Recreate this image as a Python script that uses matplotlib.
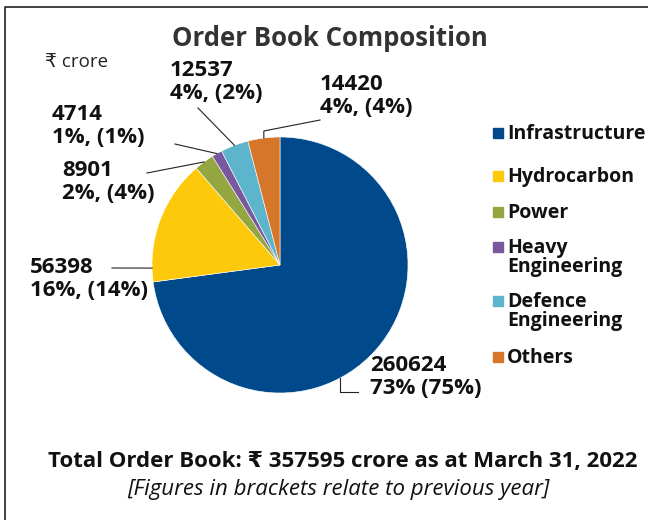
import numpy as np
import matplotlib.pyplot as plt
from matplotlib.patches import Rectangle
from matplotlib.lines import Line2D

plt.rcParams['font.family'] = ['Open Sans', 'DejaVu Sans']

# data
segments = ['Infrastructure', 'Hydrocarbon', 'Power', 'Heavy\nEngineering',
            'Defence\nEngineering', 'Others']
values = [260624, 56398, 8901, 4714, 12537, 14420]
share_now = ['73%', '16%', '2%', '1%', '4%', '4%']
share_prev = ['(75%)', '(14%)', '(4%)', '(1%)', '(2%)', '(4%)']
colors = ['#00498a', '#ffc90b', '#93a63f', '#7a58a0', '#5cb5cc', '#d6762a']

W, H = 648, 520


def fp(x, y):
    # pixel (from top-left) -> figure fraction
    return (x / W, 1 - y / H)


fig = plt.figure(figsize=(6.48, 5.2), dpi=100)

# pie centred at (280, 265) px, radius 128 px
cx, cy, r = 280, 265, 128
ax = fig.add_axes([(cx - r) / W, (H - cy - r) / H, 2 * r / W, 2 * r / H])
wedges, _ = ax.pie(values, colors=colors, startangle=90, counterclock=False,
                   wedgeprops=dict(edgecolor='white', linewidth=0.4))
ax.set_xlim(-1, 1)
ax.set_ylim(-1, 1)
ax.set_aspect('equal')
ax.axis('off')

# labels: text position (left, top) in px, point along wedge for leader, leader end
label_pos = [(370, 355), (30, 257), (62, 160), (52, 104), (170, 60), (320, 74)]
anchor_frac = [0.58, 0.11, 0.5, 0.5, 0.5, 0.5]
label_end = [(358, 392), (112, 268), (147, 173), (175, 144), (198, 108), (320, 120)]
elbow = [392, None, None, None, None, 131]

for i, w in enumerate(wedges):
    t1, t2 = w.theta1, w.theta2
    # clockwise pie: each wedge starts at theta2
    ang = np.deg2rad(t2 - anchor_frac[i] * (t2 - t1))
    ax_pt = ax.transData.transform((np.cos(ang), np.sin(ang)))
    fx, fy = fig.transFigure.inverted().transform(ax_pt)
    pts = [(fx, fy)]
    if elbow[i] is not None:
        pts.append((fx, 1 - elbow[i] / H))
    pts.append(fp(*label_end[i]))
    xs, ys = zip(*pts)
    fig.add_artist(Line2D(xs, ys, color='#222222', lw=0.8))
    sep = ' ' if i == 0 else ', '
    txt = f'{values[i]}\n{share_now[i]}{sep}{share_prev[i]}'
    fig.text(*fp(*label_pos[i]), txt, ha='left', va='top', fontsize=16,
             fontweight='bold', color='#111111', linespacing=1.12)

# title and unit
fig.text(*fp(330, 38), 'Order Book Composition', ha='center', va='center',
         fontsize=18.5, fontweight='bold', color='#333333')
fig.text(*fp(45, 62), '₹ crore', ha='left', va='center', fontsize=13.5,
         color='#222222')

# legend
leg_y = [133, 176, 212, 247, 301, 357]
for i, name in enumerate(segments):
    sx, sy = fp(493, leg_y[i] + 5)
    fig.add_artist(Rectangle((sx, sy), 10 / W, 10 / H, color=colors[i],
                             transform=fig.transFigure))
    fig.text(*fp(507, leg_y[i] - 9), name, ha='left', va='top',
             fontsize=14, fontweight='bold', color='#111111', linespacing=0.92)

# footer
fig.text(*fp(343, 461), 'Total Order Book: ₹ 357595 crore as at March 31, 2022',
         ha='center', va='center', fontsize=16, fontweight='bold', color='#111111')
fig.text(*fp(338, 490), '[Figures in brackets relate to previous year]',
         ha='center', va='center', fontsize=16, style='italic', color='#111111')

# frame (top and left edges visible)
fig.add_artist(Line2D([5 / W, 5 / W, 1], [0, 1 - 7 / H, 1 - 7 / H],
                      color='#222222', lw=1.2))

fig.savefig('out.png', dpi=100)
